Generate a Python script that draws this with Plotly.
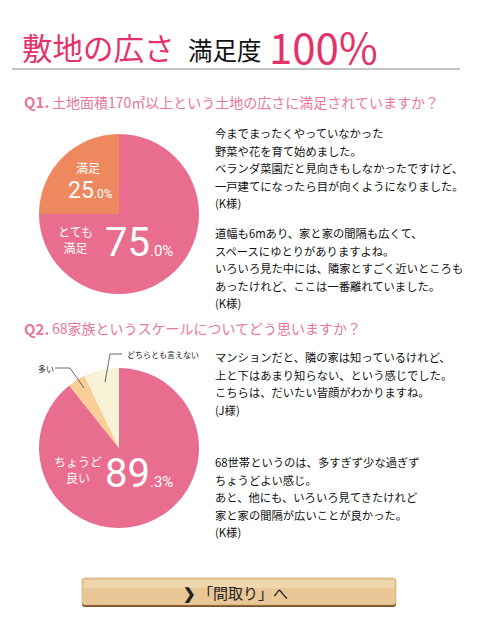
import plotly.graph_objects as go

W, H = 479, 628

# ---- data ----
title_main = "敷地の広さ"
title_sub = "満足度"
title_value = "100%"

q1_title = "土地面積170㎡以上という土地の広さに満足されていますか？"
q1_labels = ["とても満足", "満足"]
q1_values = [75.0, 25.0]
q1_colors = ["#E96D8F", "#EE885E"]

q2_title = "68家族というスケールについてどう思いますか？"
q2_labels = ["ちょうど良い", "多い", "どちらとも言えない"]
q2_values = [89.3, 3.6, 7.1]
q2_colors = ["#E96D8F", "#F9CE97", "#F8F3D6"]

comments_q1 = [
    ["今までまったくやっていなかった", "野菜や花を育て始めました。",
     "ベランダ菜園だと見向きもしなかったですけど、",
     "一戸建てになったら目が向くようになりました。", "(K様)"],
    ["道幅も6mあり、家と家の間隔も広くて、", "スペースにゆとりがありますよね。",
     "いろいろ見た中には、隣家とすごく近いところも",
     "あったけれど、ここは一番離れていました。", "(K様)"],
]
comments_q2 = [
    ["マンションだと、隣の家は知っているけれど、", "上と下はあまり知らない、という感じでした。",
     "こちらは、だいたい皆顔がわかりますね。", "(J様)"],
    ["68世帯というのは、多すぎず少な過ぎず", "ちょうどよい感じ。",
     "あと、他にも、いろいろ見てきたけれど", "家と家の間隔が広いことが良かった。", "(K様)"],
]
button_text = "「間取り」へ"

FONT = "Noto Sans CJK JP"
PINK_T = "#E4336B"
PINK_Q = "#E8779A"


def px(x):
    return x / W


def py(y):
    return 1 - y / H


def split_pct(v):
    s = f"{v:.1f}"
    a, b = s.split(".")
    return a, "." + b + "%"


fig = go.Figure()

fig.add_trace(go.Pie(
    labels=q1_labels, values=q1_values, sort=False, direction="clockwise",
    marker=dict(colors=q1_colors, line=dict(width=0)),
    textinfo="none", hoverinfo="label+percent", showlegend=False,
    domain=dict(x=[px(39), px(199)], y=[py(295), py(133)]),
))
fig.add_trace(go.Pie(
    labels=q2_labels, values=q2_values, sort=False, direction="clockwise",
    marker=dict(colors=q2_colors, line=dict(width=0)),
    textinfo="none", hoverinfo="label+percent", showlegend=False,
    domain=dict(x=[px(39), px(199)], y=[py(528), py(368)]),
))

ann = []


def add_text(x, y, text, size=11.3, color="#111111", xanchor="left", yanchor="middle", align="left", family=FONT):
    ann.append(dict(x=px(x), y=py(y), xref="paper", yref="paper", text=text, showarrow=False,
                    xanchor=xanchor, yanchor=yanchor, align=align,
                    font=dict(family=family, size=size, color=color)))


# title
add_text(20, 47, title_main, size=30.5, color=PINK_T)
add_text(186, 50, title_sub, size=24.5, color="#111")
add_text(267, 46, title_value, size=42, color=PINK_T)

# question headers
for label, title, y in [("Q1.", q1_title, 102), ("Q2.", q2_title, 328)]:
    add_text(22, y, f"<b>{label}</b>", size=15, color=PINK_Q)
    add_text(50, y, title, size=14, color=PINK_Q)

# comments
LH = 17.6
for block, y0 in zip(comments_q1, [133, 233]):
    for i, line in enumerate(block):
        add_text(213, y0 + i * LH, line)
for block, y0 in zip(comments_q2, [357, 462]):
    for i, line in enumerate(block):
        add_text(213, y0 + i * LH, line)

# pie 1 labels
a, b = split_pct(q1_values[1])
add_text(88, 167, q1_labels[1], size=12, color="white", xanchor="center")
add_text(90, 190, f"{a}<span style='font-size:12px'>{b}</span>", size=23, color="white",
         xanchor="center", family="Roboto")
add_text(75, 239, "とても<br>満足", size=12, color="white", xanchor="center", align="center")
a, b = split_pct(q1_values[0])
add_text(103, 242, f"{a}<span style='font-size:15px'>{b}</span>", size=40, color="white",
         family="Roboto")

# pie 2 labels
add_text(78, 470, "ちょうど<br>良い", size=12, color="white", xanchor="center", align="center")
a, b = split_pct(q2_values[0])
add_text(103, 473, f"{a}<span style='font-size:15px'>{b}</span>", size=40, color="white",
         family="Roboto")
add_text(36, 368, q2_labels[1], size=8, color="#222", xanchor="left")
add_text(125, 354, q2_labels[2], size=8, color="#222", xanchor="left")

# button text
add_text(181, 592, "<b>❯</b>", size=15, color="#222", xanchor="left")
add_text(196, 592, button_text, size=15, color="#222", xanchor="left")

shapes = []
# title underline
shapes.append(dict(type="line", xref="paper", yref="paper", x0=px(12), x1=px(460), y0=py(69), y1=py(69),
                   line=dict(color="#8a8a8a", width=1)))


# leader lines
def seg(pts):
    path = "M " + " L ".join(f"{px(x)},{py(y)}" for x, y in pts)
    shapes.append(dict(type="path", xref="paper", yref="paper", path=path,
                       line=dict(color="#444", width=0.8)))


seg([(55, 368), (70, 368), (84, 388)])
seg([(122, 354), (110, 354), (105, 382)])


# button
def rounded(x0, y0, x1, y1, r):
    return (f"M {px(x0 + r)},{py(y0)} L {px(x1 - r)},{py(y0)} Q {px(x1)},{py(y0)} {px(x1)},{py(y0 + r)} "
            f"L {px(x1)},{py(y1 - r)} Q {px(x1)},{py(y1)} {px(x1 - r)},{py(y1)} "
            f"L {px(x0 + r)},{py(y1)} Q {px(x0)},{py(y1)} {px(x0)},{py(y1 - r)} "
            f"L {px(x0)},{py(y0 + r)} Q {px(x0)},{py(y0)} {px(x0 + r)},{py(y0)} Z")


shapes.append(dict(type="path", xref="paper", yref="paper", path=rounded(82, 579, 396, 607, 3),
                   fillcolor="#7A5228", line=dict(width=0), layer="below"))
shapes.append(dict(type="path", xref="paper", yref="paper", path=rounded(82, 578, 396, 605, 3),
                   fillcolor="#E9C797", line=dict(color="#C9A16A", width=0.6), layer="below"))
shapes.append(dict(type="rect", xref="paper", yref="paper", x0=px(84), x1=px(394), y0=py(580), y1=py(588),
                   fillcolor="#F0D6AC", line=dict(width=0), layer="below"))

fig.update_layout(
    width=W, height=H, margin=dict(l=0, r=0, t=0, b=0),
    paper_bgcolor="white", plot_bgcolor="white",
    annotations=ann, shapes=shapes, showlegend=False,
    font=dict(family=FONT),
)

fig.write_html("out.html")
